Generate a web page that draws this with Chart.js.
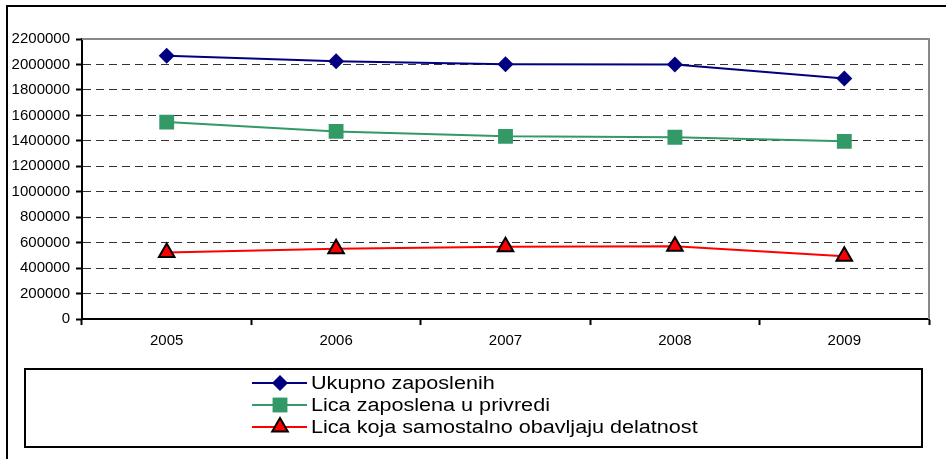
<!doctype html>
<html lang="sr">
<head>
  <meta charset="utf-8">
  <title>Zaposleni 2005-2009</title>
  <style>
    html, body { margin: 0; padding: 0; background: #fff; }
    #wrap { position: relative; width: 946px; height: 459px; }
  </style>
</head>
<body>
  <div id="wrap">
    <canvas id="myChart" width="946" height="459"></canvas>
  </div>

  <script src="https://cdn.jsdelivr.net/npm/chart.js@4.4.2/dist/chart.umd.min.js"></script>
  <script>
    const years = ['2005', '2006', '2007', '2008', '2009'];

    const ukupno = [2068964, 2025627, 2002344, 1999476, 1889085];
    const privreda = [1547000, 1474000, 1435000, 1428000, 1396000];
    const samostalno = [522000, 552000, 567000, 571000, 493000];

    const seriesNames = ['Ukupno zaposlenih', 'Lica zaposlena u privredi', 'Lica koja samostalno obavljaju delatnost'];

    const yMax = 2200000;
    const yStep = 200000;

    const FONT = "'Liberation Sans', Arial, sans-serif";

    // frame, plot border and the boxed legend at the bottom
    const framePlugin = {
      id: 'frame',
      beforeDatasetsDraw(chart) {
        const { ctx, chartArea: a } = chart;
        ctx.save();
        ctx.strokeStyle = '#888';
        ctx.lineWidth = 2;
        ctx.beginPath();
        ctx.moveTo(a.left, a.top);
        ctx.lineTo(a.right, a.top);
        ctx.lineTo(a.right, a.bottom);
        ctx.stroke();
        ctx.restore();
      },
      afterDraw(chart) {
        const ctx = chart.ctx;
        ctx.save();
        // outer frame (left + top)
        ctx.strokeStyle = '#000';
        ctx.lineWidth = 2;
        ctx.beginPath();
        ctx.moveTo(7, 459);
        ctx.lineTo(7, 6);
        ctx.lineTo(946, 6);
        ctx.stroke();

        // legend box
        ctx.strokeRect(25, 369, 897, 78);

        const rows = [383, 405, 427];
        chart.data.datasets.forEach((ds, i) => {
          const y = rows[i];
          ctx.strokeStyle = ds.borderColor;
          ctx.lineWidth = 2;
          ctx.beginPath();
          ctx.moveTo(252, y);
          ctx.lineTo(307, y);
          ctx.stroke();

          ctx.fillStyle = ds.backgroundColor;
          ctx.strokeStyle = ds.pointBorderColor || ds.backgroundColor;
          ctx.lineWidth = ds.pointBorderWidth;
          Chart.helpers.drawPoint(ctx, {
            pointStyle: ds.pointStyle,
            radius: ds.pointRadius,
            borderWidth: ds.pointBorderWidth,
            rotation: 0
          }, 280, y);

          // text is a bit wider than plain Arial in the original
          ctx.save();
          ctx.translate(311, y + 1);
          ctx.scale(1.2, 1);
          ctx.fillStyle = '#000';
          ctx.font = '18px ' + FONT;
          ctx.textBaseline = 'middle';
          ctx.textAlign = 'left';
          ctx.fillText(ds.label, 0, 0);
          ctx.restore();
        });
        ctx.restore();
      }
    };

    const ctx = document.getElementById('myChart');

    const datasets = [{
      label: seriesNames[0],
      data: ukupno,
      borderColor: '#000080',
      backgroundColor: '#000080',
      pointStyle: 'rectRot',
      pointRadius: 8,
      pointBorderWidth: 0,
      borderWidth: 2
    }, {
      label: seriesNames[1],
      data: privreda,
      borderColor: '#339966',
      backgroundColor: '#339966',
      pointStyle: 'rect',
      pointRadius: 10.5,
      pointBorderWidth: 0,
      borderWidth: 2
    }, {
      label: seriesNames[2],
      data: samostalno,
      borderColor: '#ff0000',
      backgroundColor: '#ff0000',
      pointStyle: 'triangle',
      pointRadius: 9,
      pointBorderWidth: 2,
      pointBorderColor: '#000',
      borderWidth: 2
    }];

    new Chart(ctx, {
      type: 'line',
      data: { labels: years, datasets: datasets },
      options: {
        responsive: false,
        animation: false,
        layout: { padding: { left: 0, top: 39, right: 17, bottom: 0 } },
        elements: { line: { tension: 0 } },
        scales: {
          x: {
            offset: true,
            grid: {
              offset: true,
              drawOnChartArea: false,
              drawTicks: true,
              tickLength: 6,
              tickWidth: 2,
              tickColor: '#000'
            },
            border: { display: true, color: '#000', width: 2 },
            ticks: { color: '#000', padding: 7, font: { family: FONT, size: 15 } },
            afterFit: s => { s.height = 140; }
          },
          y: {
            min: 0,
            max: yMax,
            grid: {
              color: c => (c.tick.value === 0 || c.tick.value === yMax) ? 'rgba(0,0,0,0)' : '#333',
              lineWidth: 1,
              tickLength: 6,
              tickWidth: 2,
              tickColor: '#000'
            },
            border: { display: true, color: '#000', width: 2, dash: [8, 5] },
            ticks: {
              stepSize: yStep,
              color: '#000',
              padding: 6,
              font: { family: FONT, size: 15 },
              callback: v => String(v)
            },
            afterFit: s => { s.width = 82; }
          }
        },
        plugins: {
          legend: { display: false },
          tooltip: { enabled: false }
        }
      },
      plugins: [framePlugin]
    });
  </script>
</body>
</html>
